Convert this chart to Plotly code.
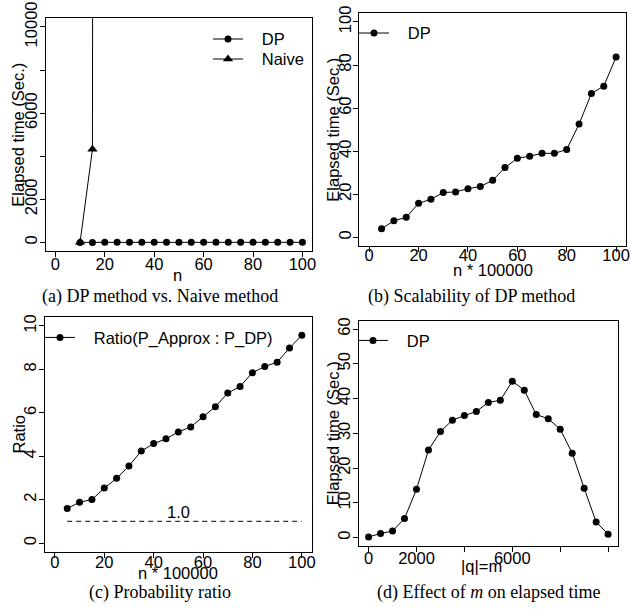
import plotly.graph_objects as go

W, H = 631, 611

# ---------------- data ----------------
n_a = [10, 15, 20, 25, 30, 35, 40, 45, 50, 55, 60, 65, 70, 75, 80, 85, 90, 95, 100]
dp_a = [0.2, 0.3, 0.5, 0.6, 0.8, 1.0, 1.2, 1.4, 1.6, 1.8, 2.0, 2.2, 2.4, 2.6, 2.8, 3.0, 3.2, 3.4, 3.6]
naive_n = [10, 15, 20]
naive_a = [5, 4320, 500000]

n_b = [5, 10, 15, 20, 25, 30, 35, 40, 45, 50, 55, 60, 65, 70, 75, 80, 85, 90, 95, 100]
dp_b = [4.0, 7.7, 9.3, 15.8, 17.7, 20.8, 21.1, 22.6, 23.6, 26.5, 32.4, 36.7, 37.7,
        39.0, 39.0, 40.8, 52.6, 66.8, 70.2, 83.7]

n_c = [5, 10, 15, 20, 25, 30, 35, 40, 45, 50, 55, 60, 65, 70, 75, 80, 85, 90, 95, 100]
ratio_c = [1.59, 1.88, 2.0, 2.53, 2.98, 3.55, 4.24, 4.58, 4.80, 5.12, 5.35, 5.82, 6.28,
           6.91, 7.21, 7.85, 8.13, 8.33, 8.98, 9.57]
baseline_x = [5, 100]
baseline_y = [1.0, 1.0]

m_d = [0, 500, 1000, 1500, 2000, 2500, 3000, 3500, 4000, 4500, 5000, 5500, 6000,
       6500, 7000, 7500, 8000, 8500, 9000, 9500, 10000]
dp_d = [0.2, 1.2, 1.9, 5.5, 13.9, 25.2, 30.5, 33.8, 35.1, 36.3, 38.9, 39.5, 45.0,
        42.4, 35.4, 34.2, 31.2, 24.3, 14.2, 4.5, 1.0]

ticks_a_x = [0, 20, 40, 60, 80, 100]
ticks_a_y = [0, 2000, 4000, 6000, 8000, 10000]
labels_a_y = ["0", "2000", "", "6000", "", "10000"]
ticks_b_y = [0, 20, 40, 60, 80, 100]
ticks_c_y = [0, 2, 4, 6, 8, 10]
ticks_d_x = [0, 2000, 4000, 6000, 8000, 10000]
labels_d_x = ["0", "2000", "", "6000", "", "10000"]
ticks_d_y = [0, 10, 20, 30, 40, 50, 60]

SANS = "Liberation Sans, Arial, sans-serif"
SERIF = "Liberation Serif, Times New Roman, serif"
FS = 16.5
CAP = 18
GAP = "\u00a0\u00a0\u00a0"


def px(x):
    return x / W


def py(y):
    return 1 - y / H


fig = go.Figure()

line = dict(color="black", width=1)
circ = dict(symbol="circle", size=7, color="black")

fig.add_trace(go.Scatter(x=n_a, y=dp_a, mode="lines+markers", name=GAP + "DP", line=line,
                         marker=circ, xaxis="x", yaxis="y", legend="legend"))
fig.add_trace(go.Scatter(x=naive_n, y=naive_a, mode="lines+markers", name=GAP + "Naive", line=line,
                         marker=dict(symbol="triangle-up", size=9, color="black"),
                         xaxis="x", yaxis="y", legend="legend5"))
fig.add_trace(go.Scatter(x=n_b, y=dp_b, mode="lines+markers", name=GAP + "DP", line=line,
                         marker=circ, xaxis="x2", yaxis="y2", legend="legend2"))
fig.add_trace(go.Scatter(x=n_c, y=ratio_c, mode="lines+markers",
                         name=GAP + "Ratio(P_Approx : P_DP)",
                         line=line, marker=circ, xaxis="x3", yaxis="y3", legend="legend3"))
fig.add_trace(go.Scatter(x=baseline_x, y=baseline_y, mode="lines", showlegend=False,
                         line=dict(color="black", width=1, dash="5px,4px"),
                         xaxis="x3", yaxis="y3"))
fig.add_trace(go.Scatter(x=m_d, y=dp_d, mode="lines+markers", name=GAP + "DP", line=line,
                         marker=circ, xaxis="x4", yaxis="y4", legend="legend4"))

axis_common = dict(showline=True, mirror=True, linecolor="black", linewidth=1,
                   ticks="outside", ticklen=5, tickwidth=1, tickcolor="black",
                   showgrid=False, zeroline=False, automargin=False,
                   tickfont=dict(family=SANS, size=FS, color="black"))

boxes = {
    "": ((45.5, 312.3), (18.3, 251)),
    "2": ((359.3, 626), (13.3, 246)),
    "3": ((45, 311.7), (317.3, 551.7)),
    "4": ((359, 617.7), (320.7, 546)),
}

layout = dict(width=W, height=H, autosize=False, margin=dict(l=0, r=0, t=0, b=0, pad=0),
              paper_bgcolor="white", plot_bgcolor="white", showlegend=True)

xranges = {"": [-4, 104], "2": [-4, 104], "3": [-4, 104], "4": [-400, 10400]}
yranges = {"": [-400, 10400], "2": [-4, 104], "3": [-0.4, 10.4], "4": [-2.4, 62.4]}
xtick = {"": (ticks_a_x, None), "2": (ticks_a_x, None), "3": (ticks_a_x, None), "4": (ticks_d_x, labels_d_x)}
ytick = {"": (ticks_a_y, labels_a_y), "2": (ticks_b_y, None), "3": (ticks_c_y, None), "4": (ticks_d_y, None)}
xstand = {"": -7, "2": -11, "3": -10, "4": -8}

for k, ((x0, x1), (y0, y1)) in boxes.items():
    xa = dict(axis_common, domain=[px(x0), px(x1)], range=xranges[k], anchor="y" + k,
              tickmode="array", tickvals=xtick[k][0], ticklabelstandoff=xstand[k])
    if xtick[k][1] is not None:
        xa["ticktext"] = xtick[k][1]
    ya = dict(axis_common, domain=[py(y1), py(y0)], range=yranges[k], anchor="x" + k,
              tickmode="array", tickvals=ytick[k][0], tickangle=-90, ticklabelstandoff=-4)
    if ytick[k][1] is not None:
        ya["ticktext"] = ytick[k][1]
    layout["xaxis" + k] = xa
    layout["yaxis" + k] = ya

legfont = dict(family=SANS, size=FS, color="black")
leg_common = dict(bgcolor="rgba(0,0,0,0)", borderwidth=0, font=legfont,
                  xanchor="left", yanchor="top", tracegroupgap=0)
LOFF = 17.5
layout["legend"] = dict(leg_common, x=px(208), y=py(39.3 - LOFF))
layout["legend5"] = dict(leg_common, x=px(208), y=py(59.3 - LOFF))
layout["legend2"] = dict(leg_common, x=px(354), y=py(33.3 - LOFF))
layout["legend3"] = dict(leg_common, x=px(40), y=py(337.7 - LOFF))
layout["legend4"] = dict(leg_common, x=px(353), y=py(340.7 - LOFF))

fig.update_layout(**layout)

annotations = []
# axis titles
ytitles = [("Elapsed time (Sec.)", 18, (18.3 + 251) / 2),
           ("Elapsed time (Sec.)", 333, (13.3 + 246) / 2),
           ("Ratio", 18, (317.3 + 551.7) / 2),
           ("Elapsed time (Sec.)", 333, (320.7 + 546) / 2)]
for t, x, y in ytitles:
    annotations.append(dict(text=t, x=px(x), y=py(y), xref="paper", yref="paper",
                            showarrow=False, textangle=-90, xanchor="center", yanchor="middle",
                            font=dict(family=SANS, size=FS, color="black")))
xtitles = [("n", 178, 275),
           ("n * 100000", 493, 269.5),
           ("n * 100000", 178, 573),
           ("|q|=m", 481, 566)]
for t, x, y in xtitles:
    annotations.append(dict(text=t, x=px(x), y=py(y), xref="paper", yref="paper",
                            showarrow=False, xanchor="center", yanchor="middle",
                            font=dict(family=SANS, size=FS, color="black")))
captions = [("(a) DP method vs. Naive method", 160, 296),
            ("(b) Scalability of DP method", 472, 296),
            ("(c) Probability ratio", 160, 592),
            ("(d) Effect of <i>m</i> on elapsed time", 489, 592)]
for t, x, y in captions:
    annotations.append(dict(text=t, x=px(x), y=py(y), xref="paper", yref="paper",
                            showarrow=False, xanchor="center", yanchor="middle",
                            font=dict(family=SERIF, size=CAP, color="black")))
annotations.append(dict(text="1.0", x=50, y=1.0, xref="x3", yref="y3", showarrow=False,
                        xanchor="center", yanchor="bottom", yshift=-2,
                        font=dict(family=SANS, size=FS, color="black")))
fig.update_layout(annotations=annotations)

fig.write_html("out.html", config={"displayModeBar": False},
               post_script="document.body.style.margin='0';document.body.style.overflow='hidden';")
